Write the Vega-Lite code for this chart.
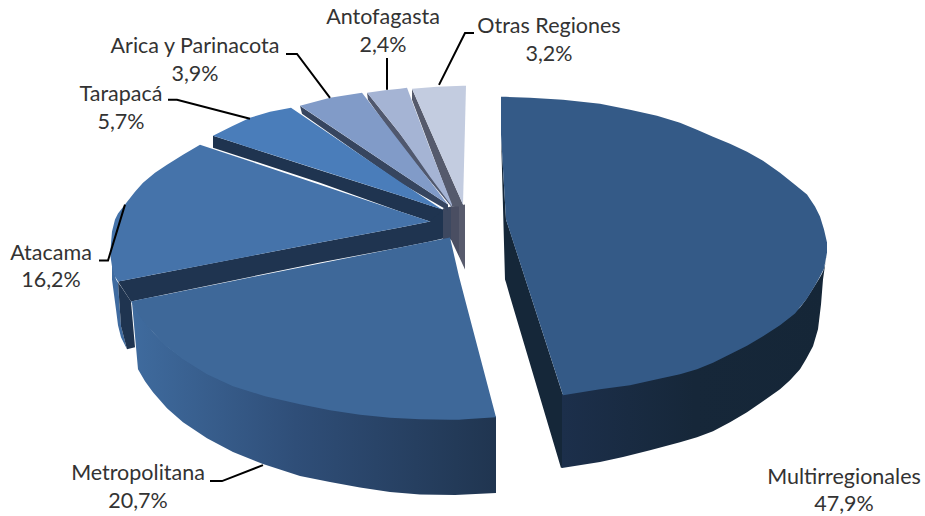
{
"$schema":"https://vega.github.io/schema/vega-lite/v6.json",
"width":925,"height":516,"padding":0,
"autosize":{"type":"fit","contains":"padding"},
"background":"white",
"config":{"view":{"stroke":null}},
"datasets":{
"back":[
{"p":"01c","x":44.3,"t":20.9,"b":24.0},{"p":"01c","x":45.1,"t":20.7,"b":24.0},
{"p":"02c","x":45.1,"t":20.7,"b":24.0},{"p":"02c","x":45.9,"t":20.6,"b":25.7},
{"p":"03c","x":45.9,"t":20.6,"b":25.7},{"p":"03c","x":46.5,"t":20.5,"b":27.0},
{"p":"04w","x":41.2,"t":8.9,"b":10.0},{"p":"04w","x":45.2,"t":18.0,"b":20.7},{"p":"04w","x":46.3,"t":20.5,"b":20.7},
{"p":"05t","x":41.2,"t":8.9,"b":8.9},{"p":"05t","x":43.7,"t":8.7,"b":14.6},{"p":"05t","x":46.3,"t":8.6,"b":20.5},{"p":"05t","x":46.6,"t":8.6,"b":8.6},
{"p":"06w","x":36.7,"t":9.3,"b":9.3},{"p":"06w","x":36.8,"t":9.4,"b":10.0},{"p":"06w","x":40.0,"t":13.4,"b":14.5},{"p":"06w","x":45.2,"t":20.5,"b":20.8},
{"p":"07t","x":36.7,"t":9.3,"b":9.3},{"p":"07t","x":38.5,"t":9.05,"b":11.5},{"p":"07t","x":40.0,"t":8.9,"b":13.4},{"p":"07t","x":40.7,"t":8.8,"b":14.4},{"p":"07t","x":43.0,"t":14.9,"b":17.7},{"p":"07t","x":45.2,"t":20.5,"b":20.7},
{"p":"08w","x":30.0,"t":10.6,"b":10.6},{"p":"08w","x":30.2,"t":10.75,"b":11.4},{"p":"08w","x":40.0,"t":17.3,"b":18.3},{"p":"08w","x":44.8,"t":20.5,"b":21.1},
{"p":"09t","x":30.0,"t":10.6,"b":10.6},{"p":"09t","x":33.0,"t":9.8,"b":12.6},{"p":"09t","x":36.2,"t":9.3,"b":14.75},{"p":"09t","x":40.0,"t":14.25,"b":17.3},{"p":"09t","x":44.8,"t":20.5,"b":20.5},
{"p":"10w","x":21.3,"t":13.6,"b":14.8},{"p":"10w","x":32.0,"t":17.06,"b":18.3},{"p":"10w","x":40.0,"t":19.6,"b":21.2},{"p":"10w","x":43.0,"t":20.6,"b":22.2},{"p":"10w","x":44.3,"t":21.0,"b":22.0},
{"p":"11t","x":21.3,"t":13.6,"b":13.6},{"p":"11t","x":23.2,"t":12.65,"b":14.2},{"p":"11t","x":25.0,"t":11.8,"b":14.8},{"p":"11t","x":27.0,"t":11.2,"b":15.44},{"p":"11t","x":29.1,"t":10.8,"b":16.1},{"p":"11t","x":40.0,"t":18.2,"b":19.6},{"p":"11t","x":44.2,"t":21.0,"b":21.0},
{"p":"12s","x":11.2,"t":26.2,"b":28.0},{"p":"12s","x":11.6,"t":28.0,"b":31.0},{"p":"12s","x":11.8,"t":28.3,"b":32.6},{"p":"12s","x":12.1,"t":32.7,"b":33.8},{"p":"12s","x":12.7,"t":35.0,"b":35.0},
{"p":"13w","x":11.8,"t":28.3,"b":28.3},{"p":"13w","x":12.1,"t":28.7,"b":32.7},{"p":"13w","x":12.7,"t":29.6,"b":35.0},{"p":"13w","x":13.1,"t":30.2,"b":34.9},{"p":"13w","x":13.5,"t":34.8,"b":34.8},
{"p":"14w","x":11.8,"t":28.2,"b":28.2},{"p":"14w","x":13.1,"t":27.95,"b":30.2},{"p":"14w","x":32.0,"t":24.3,"b":26.3},{"p":"14w","x":40.0,"t":22.8,"b":24.8},{"p":"14w","x":43.0,"t":22.2,"b":24.2},{"p":"14w","x":44.3,"t":21.0,"b":23.9},
{"p":"15t","x":11.05,"t":25.0,"b":25.7},{"p":"15t","x":11.2,"t":23.2,"b":26.7},{"p":"15t","x":11.5,"t":22.0,"b":27.7},{"p":"15t","x":11.8,"t":21.4,"b":28.2},{"p":"15t","x":12.5,"t":20.5,"b":28.07},{"p":"15t","x":13.5,"t":19.2,"b":27.87},{"p":"15t","x":14.3,"t":18.3,"b":27.72},{"p":"15t","x":15.5,"t":17.3,"b":27.49},{"p":"15t","x":16.7,"t":16.5,"b":27.26},{"p":"15t","x":18.3,"t":15.5,"b":26.95},{"p":"15t","x":20.0,"t":14.5,"b":26.62},{"p":"15t","x":32.0,"t":18.5,"b":24.3},{"p":"15t","x":40.0,"t":21.2,"b":22.8},{"p":"15t","x":43.0,"t":22.2,"b":22.2},
{"p":"16w","x":50.1,"t":13.5,"b":13.5},{"p":"16w","x":50.5,"t":20.3,"b":28.0},{"p":"16w","x":50.6,"t":22.0,"b":28.3},{"p":"16w","x":51.0,"t":23.2,"b":29.7},{"p":"16w","x":56.1,"t":39.0,"b":46.9},{"p":"16w","x":56.3,"t":39.6,"b":46.8}
],
"metroSide":[
{"x":13.2,"t":30.3,"b":30.3},{"x":13.8,"t":31.2,"b":37.0},{"x":14.5,"t":32.2,"b":38.2},{"x":15.3,"t":33.3,"b":39.3},{"x":16.7,"t":34.7,"b":40.9},{"x":18.3,"t":35.9,"b":42.3},{"x":20.7,"t":37.4,"b":43.9},{"x":23.3,"t":38.6,"b":45.3},{"x":26.3,"t":39.5,"b":46.5},{"x":30.0,"t":40.4,"b":47.7},{"x":33.0,"t":41.0,"b":48.3},{"x":36.0,"t":41.45,"b":48.85},{"x":39.0,"t":41.75,"b":49.3},{"x":42.0,"t":41.9,"b":49.55},{"x":45.5,"t":41.95,"b":49.6},{"x":49.6,"t":41.7,"b":49.4}
],
"multiSide":[
{"x":56.2,"t":39.5,"b":46.9},{"x":60.0,"t":38.9,"b":46.3},{"x":62.3,"t":38.6,"b":45.8},{"x":65.0,"t":38.0,"b":45.1},{"x":68.0,"t":37.4,"b":44.3},{"x":69.7,"t":36.9,"b":43.8},{"x":71.3,"t":36.2,"b":43.2},{"x":73.0,"t":35.4,"b":42.3},{"x":74.7,"t":34.5,"b":41.3},{"x":76.3,"t":33.6,"b":40.2},{"x":78.0,"t":32.5,"b":39.0},{"x":79.0,"t":31.7,"b":38.1},{"x":80.0,"t":30.8,"b":37.0},{"x":80.6,"t":30.0,"b":36.0},{"x":81.3,"t":28.9,"b":34.7},{"x":81.8,"t":28.1,"b":33.0},{"x":82.1,"t":27.6,"b":30.5},{"x":82.3,"t":27.2,"b":28.0},{"x":82.5,"t":26.5,"b":26.6},{"x":82.7,"t":25.2,"b":25.2}
],
"front":[
{"p":"17m","x":13.1,"t":30.2,"b":30.2},{"p":"17m","x":14.0,"t":30.02,"b":31.7},{"p":"17m","x":15.0,"t":29.82,"b":33.0},{"p":"17m","x":16.5,"t":29.52,"b":34.6},{"p":"17m","x":18.3,"t":29.16,"b":36.0},{"p":"17m","x":20.7,"t":28.68,"b":37.5},{"p":"17m","x":23.3,"t":28.15,"b":38.7},{"p":"17m","x":26.5,"t":27.51,"b":39.7},{"p":"17m","x":30.0,"t":26.81,"b":40.5},{"p":"17m","x":33.0,"t":26.21,"b":41.1},{"p":"17m","x":36.0,"t":25.61,"b":41.55},{"p":"17m","x":39.0,"t":25.0,"b":41.85},{"p":"17m","x":42.0,"t":24.4,"b":42.0},{"p":"17m","x":45.0,"t":23.8,"b":42.05},{"p":"17m","x":45.9,"t":27.7,"b":42.05},{"p":"17m","x":46.5,"t":30.0,"b":42.0},{"p":"17m","x":49.6,"t":41.8,"b":41.8},
{"p":"18g","x":50.1,"t":9.7,"b":13.5},{"p":"18g","x":50.6,"t":9.7,"b":22.0},{"p":"18g","x":53.0,"t":9.8,"b":29.4},{"p":"18g","x":56.3,"t":10.0,"b":39.6},{"p":"18g","x":60.0,"t":10.4,"b":39.0},{"p":"18g","x":63.0,"t":11.0,"b":38.6},{"p":"18g","x":65.7,"t":11.6,"b":38.0},{"p":"18g","x":68.0,"t":12.3,"b":37.5},{"p":"18g","x":69.7,"t":13.0,"b":37.0},{"p":"18g","x":71.3,"t":13.7,"b":36.35},{"p":"18g","x":73.0,"t":14.4,"b":35.5},{"p":"18g","x":74.7,"t":15.2,"b":34.65},{"p":"18g","x":76.3,"t":16.1,"b":33.7},{"p":"18g","x":78.0,"t":17.3,"b":32.6},{"p":"18g","x":79.5,"t":18.5,"b":31.4},{"p":"18g","x":80.7,"t":19.5,"b":29.9},{"p":"18g","x":81.5,"t":20.7,"b":28.6},{"p":"18g","x":82.0,"t":21.7,"b":27.7},{"p":"18g","x":82.4,"t":23.0,"b":26.9},{"p":"18g","x":82.7,"t":24.3,"b":25.3}
],
"labels":[
{"region":"Otras Regiones","share":"3,2%","x":54.9,"ny":3.3,"sy":6.1},
{"region":"Antofagasta","share":"2,4%","x":38.3,"ny":2.4,"sy":5.2},
{"region":"Arica y Parinacota","share":"3,9%","x":19.5,"ny":5.3,"sy":8.1},
{"region":"Tarapacá","share":"5,7%","x":12.1,"ny":10.1,"sy":12.9},
{"region":"Atacama","share":"16,2%","x":5.1,"ny":26.1,"sy":28.8},
{"region":"Metropolitana","share":"20,7%","x":13.8,"ny":48.1,"sy":50.9},
{"region":"Multirregionales","share":"47,9%","x":84.4,"ny":48.5,"sy":51.2}
],
"leaders":[
{"region":"Otras Regiones","o":1,"x":43.9,"y":8.5},{"region":"Otras Regiones","o":2,"x":46.5,"y":3.3},{"region":"Otras Regiones","o":3,"x":47.4,"y":3.3},
{"region":"Antofagasta","o":1,"x":38.7,"y":9.0},{"region":"Antofagasta","o":2,"x":38.7,"y":5.8},
{"region":"Arica y Parinacota","o":1,"x":33.0,"y":9.8},{"region":"Arica y Parinacota","o":2,"x":29.7,"y":5.4},{"region":"Arica y Parinacota","o":3,"x":28.6,"y":5.4},
{"region":"Tarapacá","o":1,"x":25.0,"y":11.9},{"region":"Tarapacá","o":2,"x":17.7,"y":10.0},{"region":"Tarapacá","o":3,"x":16.8,"y":10.0},
{"region":"Atacama","o":1,"x":12.5,"y":20.5},{"region":"Atacama","o":2,"x":10.8,"y":26.1},{"region":"Atacama","o":3,"x":9.9,"y":26.1},
{"region":"Metropolitana","o":1,"x":26.3,"y":46.6},{"region":"Metropolitana","o":2,"x":22.2,"y":48.2},{"region":"Metropolitana","o":3,"x":21.0,"y":48.2}
]
},
"layer":[
{"data":{"name":"back"},
 "mark":{"type":"area","interpolate":"linear"},
 "encoding":{
  "x":{"field":"x","type":"quantitative","scale":{"domain":[0,92.5]},"axis":null},
  "y":{"field":"t","type":"quantitative","stack":null,"scale":{"domain":[0,51.6],"reverse":true},"axis":null},
  "y2":{"field":"b"},
  "color":{"field":"p","type":"nominal","legend":null,"sort":null,"scale":{
    "domain":["01c","02c","03c","04w","05t","06w","07t","08w","09t","10w","11t","12s","13w","14w","15t","16w"],
    "range":["#3d4860","#4a4e62","#585b6d","#555a6c","#c3cce0","#50586e","#a5b4d4","#36455f","#819bc8","#1f3450","#4a7dba","#3f6ba0","#1f3450","#1f3450","#4573aa","#152739"]}}
 }},
{"data":{"name":"metroSide"},
 "mark":{"type":"area","interpolate":"linear","color":{"gradient":"linear","x1":0,"x2":1,"y1":0,"y2":0,"stops":[{"offset":0,"color":"#3f6b9e"},{"offset":0.45,"color":"#2f4e78"},{"offset":1,"color":"#203550"}]}},
 "encoding":{
  "x":{"field":"x","type":"quantitative","scale":{"domain":[0,92.5]},"axis":null},
  "y":{"field":"t","type":"quantitative","stack":null,"scale":{"domain":[0,51.6],"reverse":true},"axis":null},
  "y2":{"field":"b"}
 }},
{"data":{"name":"multiSide"},
 "mark":{"type":"area","interpolate":"linear","color":{"gradient":"linear","x1":0,"x2":1,"y1":0,"y2":0,"stops":[{"offset":0,"color":"#1c2f4b"},{"offset":0.5,"color":"#162739"},{"offset":1,"color":"#152637"}]}},
 "encoding":{
  "x":{"field":"x","type":"quantitative","scale":{"domain":[0,92.5]},"axis":null},
  "y":{"field":"t","type":"quantitative","stack":null,"scale":{"domain":[0,51.6],"reverse":true},"axis":null},
  "y2":{"field":"b"}
 }},
{"data":{"name":"front"},
 "mark":{"type":"area","interpolate":"linear"},
 "encoding":{
  "x":{"field":"x","type":"quantitative","scale":{"domain":[0,92.5]},"axis":null},
  "y":{"field":"t","type":"quantitative","stack":null,"scale":{"domain":[0,51.6],"reverse":true},"axis":null},
  "y2":{"field":"b"},
  "fill":{"field":"p","type":"nominal","legend":null,"scale":{"domain":["17m","18g"],"range":["#3e6899","#345a87"]}}
 }},
{"data":{"name":"leaders"},
 "mark":{"type":"line","color":"#000000","strokeWidth":2,"interpolate":"linear"},
 "encoding":{
  "x":{"field":"x","type":"quantitative","scale":{"domain":[0,92.5]},"axis":null},
  "y":{"field":"y","type":"quantitative","scale":{"domain":[0,51.6],"reverse":true},"axis":null},
  "detail":{"field":"region"},
  "order":{"field":"o","type":"quantitative"}
 }},
{"data":{"name":"labels"},
 "mark":{"type":"text","font":"Lato","fontSize":21.5,"color":"#333333","baseline":"alphabetic","align":"center"},
 "encoding":{
  "x":{"field":"x","type":"quantitative","scale":{"domain":[0,92.5]},"axis":null},
  "y":{"field":"ny","type":"quantitative","scale":{"domain":[0,51.6],"reverse":true},"axis":null},
  "text":{"field":"region"}
 }},
{"data":{"name":"labels"},
 "mark":{"type":"text","font":"Lato","fontSize":21.5,"color":"#333333","baseline":"alphabetic","align":"center"},
 "encoding":{
  "x":{"field":"x","type":"quantitative","scale":{"domain":[0,92.5]},"axis":null},
  "y":{"field":"sy","type":"quantitative","scale":{"domain":[0,51.6],"reverse":true},"axis":null},
  "text":{"field":"share"}
 }}
]
}
